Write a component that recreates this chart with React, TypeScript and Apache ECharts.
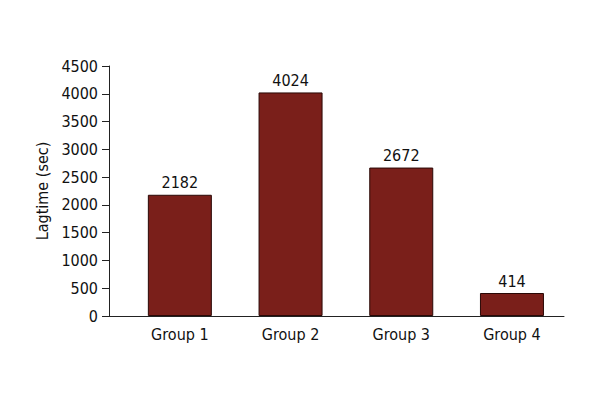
import React, { useEffect, useRef } from "react";
import * as echarts from "echarts";

const categories = ["Group 1", "Group 2", "Group 3", "Group 4"];
const lagtimes = [2182, 4024, 2672, 414];
const yTicks = [0, 500, 1000, 1500, 2000, 2500, 3000, 3500, 4000, 4500];

const FONT = "'Liberation Sans Narrow', 'DejaVu Sans Condensed', 'Liberation Sans', sans-serif";

export default function App() {
  const ref = useRef<HTMLDivElement>(null);
  useEffect(() => {
    if (!ref.current) return;
    const chart = echarts.init(ref.current, null, { renderer: "svg" });
    const positions = categories.map((_, i) => i);
    chart.setOption({
      animation: false,
      backgroundColor: "#ffffff",
      textStyle: { fontFamily: FONT },
      grid: { left: 109, right: 36, top: 66, bottom: 84 },
      xAxis: {
        type: "value",
        min: -0.64,
        max: 3.47,
        axisLine: { show: true, onZero: false, lineStyle: { color: "#222", width: 1 } },
        axisTick: { show: false },
        splitLine: { show: false },
        axisLabel: {
          customValues: positions,
          formatter: (v: number) => categories[Math.round(v)] ?? "",
          color: "#111",
          fontSize: 16,
          fontFamily: FONT,
          margin: 10,
        },
      },
      yAxis: {
        type: "value",
        min: yTicks[0],
        max: yTicks[yTicks.length - 1],
        interval: 500,
        name: "Lagtime (sec)",
        nameLocation: "middle",
        nameGap: 55,
        nameRotate: 90,
        nameTextStyle: { color: "#111", fontSize: 16, fontFamily: FONT },
        axisLine: { show: true, onZero: false, lineStyle: { color: "#222", width: 1 } },
        axisTick: { show: true, length: 7, lineStyle: { color: "#222" } },
        splitLine: { show: false },
        axisLabel: {
          color: "#111",
          fontSize: 16,
          fontFamily: FONT,
          margin: 11,
          formatter: (v: number) => String(v),
        },
      },
      series: [
        {
          type: "bar",
          data: lagtimes.map((v, i) => [positions[i], v]),
          barWidth: 64,
          itemStyle: { color: "#7a1f1a", borderColor: "#2a0806", borderWidth: 1 },
          label: {
            show: true,
            position: "top",
            distance: 4,
            color: "#111",
            fontSize: 16,
            fontFamily: FONT,
            formatter: (p: any) => String(p.value[1]),
          },
        },
      ],
    });
    return () => chart.dispose();
  }, []);
  return <div ref={ref} style={{ width: 600, height: 400, position: "absolute", left: 0, top: 0 }} />;
}
